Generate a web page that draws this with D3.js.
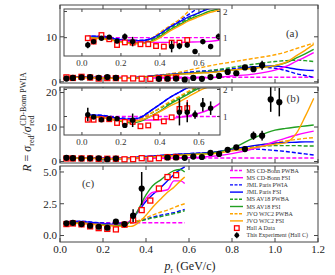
<!DOCTYPE html>
<html><head><meta charset="utf-8">
<script src="https://cdn.jsdelivr.net/npm/d3@7"></script>
<style>body{margin:0;background:#fff}svg{display:block}</style>
</head><body><svg id="c" width="335" height="275"></svg>
<script>
// ---------------- DATA ----------------
const seriesNames = ["MS CD-Bonn PWBA","MS CD-Bonn FSI","JML Paris PWIA","JML Paris FSI","MS AV18 PWBA","MS AV18 FSI","JVO WJC2 PWBA","JVO WJC2 FSI"];
const seriesColors = ["#ff00ff","#ff00ff","#0000ff","#0000ff","#22a022","#22a022","#ffa500","#ffa500"];
const seriesDashed = [true,false,true,false,true,false,true,false];

const pGridAB = [0.02,0.05,0.1,0.15,0.2,0.25,0.3,0.35,0.4,0.45,0.5,0.55,0.6,0.65,0.7,0.8,0.9,1.0,1.05,1.1,1.14,1.18];
const pGridC  = [0.02,0.05,0.1,0.15,0.2,0.25,0.3,0.33,0.36,0.4,0.43,0.47,0.5,0.53,0.56,0.58];

// panel (a)
const a_msCdbPwba = [1,1,1,1,1,1,1,1,1,1,1,1,1,1,1,1,1,1,1,1,1,1];
const a_msCdbFsi  = [1.0,1.0,0.97,0.93,0.88,0.85,0.83,0.82,0.82,0.82,0.82,0.83,0.84,0.86,0.9,1.3,1.7,2.6,3.4,4.6,5.5,6.5];
const a_jmlPwia   = [1.02,1.06,1.06,1.0,0.94,0.9,0.9,0.95,1.15,1.4,1.65,1.9,2.15,2.35,2.5,2.9,3.3,3.0,2.5,1.8,1.4,1.0];
const a_jmlFsi    = [1.02,1.06,1.05,0.98,0.92,0.88,0.88,0.95,1.15,1.4,1.6,1.8,1.95,2.1,2.2,2.6,3.3,3.5,3.2,2.8,2.6,2.5];
const a_av18Pwba  = [1.0,1.02,1.0,0.95,0.88,0.83,0.82,0.9,1.1,1.35,1.55,1.75,1.95,2.2,2.5,3.2,3.9,4.5,4.7,4.8,4.7,4.5];
const a_av18Fsi   = [1.0,1.0,0.97,0.92,0.85,0.8,0.79,0.85,1.05,1.3,1.5,1.7,1.85,2.0,2.1,2.6,3.1,3.6,4.2,5.3,6.2,7.2];
const a_wjc2Pwba  = [1.0,1.0,0.98,0.93,0.87,0.82,0.82,0.95,1.2,1.45,1.7,2.05,2.6,3.1,3.6,4.4,5.2,6.0,6.6,7.4,8.0,8.6];
const a_wjc2Fsi   = [1.0,0.99,0.96,0.9,0.83,0.78,0.77,0.82,1.0,1.25,1.45,1.65,1.8,1.95,2.05,2.6,3.0,3.6,4.3,5.8,7.0,8.3];

// panel (b)
const b_msCdbPwba = [1,1,1,1,1,1,1,1,1,1,1,1,1,1,1,1,1,1,1,1,1,1];
const b_msCdbFsi  = [1.0,1.0,0.95,0.91,0.88,0.86,0.86,0.87,0.88,0.92,0.97,1.03,1.12,1.25,1.45,2.3,3.7,5.8,6.8,7.7,8.3,8.8];
const b_jmlPwia   = [1.03,1.06,1.05,1.0,0.95,0.92,0.98,1.2,1.45,1.7,1.9,2.1,2.3,2.45,2.6,3.3,3.6,3.2,2.9,2.5,2.2,1.9];
const b_jmlFsi    = [1.03,1.06,1.04,0.98,0.92,0.9,0.96,1.2,1.45,1.7,1.9,2.1,2.25,2.4,2.6,3.6,4.6,5.3,5.5,5.6,5.7,5.7];
const b_av18Pwba  = [1.0,1.02,1.0,0.95,0.9,0.87,0.92,1.1,1.3,1.5,1.7,1.9,2.1,2.3,2.5,3.4,4.2,4.6,4.6,4.6,4.5,4.5];
const b_av18Fsi   = [1.0,1.0,0.96,0.9,0.82,0.76,0.82,1.0,1.2,1.45,1.65,1.85,2.05,2.2,2.4,3.8,6.8,9.1,9.6,10.0,10.3,10.6];
const b_wjc2Pwba  = [1.0,1.0,0.98,0.94,0.9,0.87,0.92,1.1,1.32,1.55,1.75,1.95,2.15,2.3,2.4,3.4,4.5,5.5,6.0,6.4,6.7,6.9];
const b_wjc2Fsi   = [1.0,0.99,0.96,0.9,0.85,0.82,0.86,1.0,1.18,1.38,1.55,1.75,1.95,2.1,2.2,3.1,4.0,5.0,5.5,8.2,13.0,18.3];

// panel (c)
const c_msCdbPwba = [1,1,1,1,1,1,1,1,1,1,1,1,1,1,1,1];
const c_msCdbFsi  = [1.0,1.0,0.97,0.93,0.88,0.85,0.9,1.2,1.9,2.9,3.4,3.5,3.6,4.3,4.3,4.1];
const c_jmlPwia   = [1.05,1.1,1.12,1.05,0.98,0.95,0.98,1.05,1.15,1.3,1.45,1.6,1.7,1.8,1.95,2.05];
const c_jmlFsi    = [1.05,1.1,1.1,1.03,0.95,0.88,0.9,1.2,1.8,2.7,3.2,3.8,4.3,4.8,5.2,5.4];
const c_av18Pwba  = [1.0,1.02,1.02,0.98,0.93,0.9,0.92,1.0,1.1,1.25,1.38,1.5,1.6,1.72,1.85,1.95];
const c_av18Fsi   = [1.0,1.0,0.98,0.92,0.85,0.8,0.85,1.15,1.9,3.2,3.9,4.4,4.8,5.1,5.2,5.0];
const c_wjc2Pwba  = [1.0,1.0,0.98,0.93,0.87,0.83,0.87,0.98,1.15,1.4,1.6,1.85,2.0,2.2,2.4,2.5];
const c_wjc2Fsi   = [1.0,0.98,0.95,0.88,0.8,0.75,0.72,0.72,0.95,1.6,2.2,2.9,3.4,3.8,4.3,4.6];

// Hall C data (this experiment)
const a_hallC_p   = [0.03,0.06,0.10,0.14,0.18,0.22,0.26,0.46,0.50,0.54,0.58,0.62,0.66,0.70,0.74,0.78,0.82,0.86,0.90,0.94];
const a_hallC_R   = [0.72,0.85,0.98,1.02,0.87,1.04,0.85,0.66,0.68,0.72,0.47,0.85,0.66,1.04,1.3,2.2,1.9,3.2,2.8,3.7];
const a_hallC_err = [0.12,0.05,0.04,0.04,0.06,0.12,0.18,0.22,0.12,0.1,0.06,0.1,0.1,0.12,0.2,0.3,0.3,0.4,0.5,1.0];
const b_hallC_p   = [0.03,0.06,0.10,0.14,0.18,0.22,0.26,0.50,0.54,0.58,0.62,0.66,0.70,0.74,0.78,0.82,0.86,0.90,0.94,0.98,1.02];
const b_hallC_R   = [1.07,0.98,0.88,0.92,0.92,0.67,0.86,1.16,1.16,1.07,1.44,1.31,2.5,2.2,3.4,4.1,3.6,7.5,7.5,18.0,17.2];
const b_hallC_err = [0.25,0.04,0.03,0.03,0.05,0.06,0.25,0.49,0.37,0.15,0.25,0.25,0.3,0.3,0.4,0.5,0.5,1.2,1.4,3.6,4.1];
const c_hallC_p   = [0.03,0.06,0.10,0.14,0.18,0.22,0.26,0.30,0.34,0.38];
const c_hallC_R   = [0.96,1.0,0.9,0.77,0.69,0.61,1.09,0.9,1.56,3.7];
const c_hallC_err = [0.1,0.05,0.05,0.05,0.05,0.05,0.1,0.15,0.5,1.3];

// Hall A data
const a_hallA_p   = [0.03,0.06,0.10,0.14,0.18,0.22,0.26,0.30,0.34,0.38,0.42,0.46,0.50,0.54];
const a_hallA_R   = [0.98,0.85,1.1,0.94,0.72,0.82,0.81,0.75,0.75,0.68,0.66,0.81,0.81,0.91];
const a_hallA_err = [0.03,0.03,0.03,0.03,0.03,0.03,0.03,0.04,0.04,0.04,0.05,0.08,0.08,0.1];
const b_hallA_p   = [0.03,0.06,0.10,0.14,0.18,0.22,0.26,0.30,0.34,0.38,0.42,0.46,0.50,0.54];
const b_hallA_R   = [0.88,0.88,0.9,0.9,0.76,0.8,0.8,0.64,0.67,0.97,0.82,0.97,1.28,1.31];
const b_hallA_err = [0.03,0.03,0.03,0.03,0.03,0.03,0.03,0.04,0.04,0.05,0.05,0.08,0.3,0.3];
const c_hallA_p   = [0.03,0.06,0.10,0.14,0.18,0.22,0.26,0.30,0.34,0.38,0.42,0.46,0.50,0.54];
const c_hallA_R   = [0.9,0.95,0.88,0.72,0.58,0.52,0.48,0.85,1.2,2.0,2.75,3.7,4.6,4.75];
const c_hallA_err = [0.03,0.03,0.03,0.03,0.03,0.03,0.03,0.05,0.08,0.1,0.12,0.15,0.2,0.25];

const xTicks = [0,0.2,0.4,0.6,0.8,1.0,1.2];
const insetXTicks = [0,0.2,0.4,0.6];
const insetYTicks = [1,2];
const aYTicks = [0,10], bYTicks = [0,10,20], cYTicks = [0,2.5,5.0];

// ---------------- DRAWING ----------------
const svg = d3.select("#c");
const SERIF = "'Liberation Serif','DejaVu Serif',serif";
const FRAME = "#444";
const X = d3.scaleLinear().domain([0,1.2]).range([60,318]);
const XI = d3.scaleLinear().domain([-0.092,0.708]).range([64,220]);

const panels = [
  {id:"a", grid:pGridAB, curves:[a_msCdbPwba,a_msCdbFsi,a_jmlPwia,a_jmlFsi,a_av18Pwba,a_av18Fsi,a_wjc2Pwba,a_wjc2Fsi],
   hc:[a_hallC_p,a_hallC_R,a_hallC_err], ha:[a_hallA_p,a_hallA_R,a_hallA_err],
   top:5, bottom:83, ydom:[-0.27,17.07], yticks:aYTicks, fmt:d3.format("d"), label:"(a)", lx:292, ly:37,
   inset:{top:9,bottom:56,ydom:[0.30,2.095]}},
  {id:"b", grid:pGridAB, curves:[b_msCdbPwba,b_msCdbFsi,b_jmlPwia,b_jmlFsi,b_av18Pwba,b_av18Fsi,b_wjc2Pwba,b_wjc2Fsi],
   hc:[b_hallC_p,b_hallC_R,b_hallC_err], ha:[b_hallA_p,b_hallA_R,b_hallA_err],
   top:87, bottom:163, ydom:[-0.43,21.6], yticks:bYTicks, fmt:d3.format("d"), label:"(b)", lx:293, ly:101.5,
   inset:{top:88,bottom:135,ydom:[0.315,2.056]}},
  {id:"c", grid:pGridC, curves:[c_msCdbPwba,c_msCdbFsi,c_jmlPwia,c_jmlFsi,c_av18Pwba,c_av18Fsi,c_wjc2Pwba,c_wjc2Fsi],
   hc:[c_hallC_p,c_hallC_R,c_hallC_err], ha:[c_hallA_p,c_hallA_R,c_hallA_err],
   top:166, bottom:242, ydom:[-0.51,5.47], yticks:cYTicks, fmt:d3.format(".1f"), label:"(c)", lx:88, ly:186.5,
   inset:null}
];

const defs = svg.append("defs");

function drawContent(g, xs, ys, P, clipId, big){
  const cg = g.append("g").attr("clip-path", `url(#${clipId})`);
  const order = [0,2,4,6,3,1,5,7];
  order.forEach(i=>{
    const data = P.grid.map((p,k)=>[p,P.curves[i][k]]);
    cg.append("path").datum(data)
      .attr("d", d3.line().x(d=>xs(d[0])).y(d=>ys(d[1])).curve(d3.curveMonotoneX))
      .attr("fill","none").attr("stroke",seriesColors[i]).attr("stroke-width",1.4)
      .attr("stroke-dasharray", seriesDashed[i] ? "4,2" : null);
  });
  // Hall A squares
  const [ap,aR,ae] = P.ha;
  const s = big ? 5 : 4.6;
  ap.forEach((p,k)=>{
    cg.append("line").attr("x1",xs(p)).attr("x2",xs(p)).attr("y1",ys(aR[k]-ae[k])).attr("y2",ys(aR[k]+ae[k]))
      .attr("stroke","#ff0000").attr("stroke-width",1.2);
    cg.append("rect").attr("x",xs(p)-s/2).attr("y",ys(aR[k])-s/2).attr("width",s).attr("height",s)
      .attr("fill","#fff").attr("stroke","#ff0000").attr("stroke-width",1.3);
  });
  // Hall C dots
  const [cp,cR,ce] = P.hc;
  cp.forEach((p,k)=>{
    cg.append("line").attr("x1",xs(p)).attr("x2",xs(p)).attr("y1",ys(cR[k]-ce[k])).attr("y2",ys(cR[k]+ce[k]))
      .attr("stroke","#000").attr("stroke-width",1.5);
    cg.append("circle").attr("cx",xs(p)).attr("cy",ys(cR[k])).attr("r", big ? 3.1 : 2.7).attr("fill","#000");
  });
}

panels.forEach(P=>{
  const Y = d3.scaleLinear().domain(P.ydom).range([P.bottom,P.top]);
  const g = svg.append("g");
  const clipId = "clip"+P.id;
  defs.append("clipPath").attr("id",clipId).append("rect")
    .attr("x",60).attr("y",P.top).attr("width",258).attr("height",P.bottom-P.top);
  drawContent(g, X, Y, P, clipId, true);
  // frame
  g.append("rect").attr("x",60).attr("y",P.top).attr("width",258).attr("height",P.bottom-P.top)
    .attr("fill","none").attr("stroke",FRAME).attr("stroke-width",1);
  // x ticks (inward, top & bottom)
  xTicks.forEach(t=>{
    g.append("line").attr("x1",X(t)).attr("x2",X(t)).attr("y1",P.bottom).attr("y2",P.bottom-4).attr("stroke",FRAME);
    g.append("line").attr("x1",X(t)).attr("x2",X(t)).attr("y1",P.top).attr("y2",P.top+4).attr("stroke",FRAME);
  });
  // y ticks
  P.yticks.forEach(t=>{
    g.append("line").attr("x1",60).attr("x2",64).attr("y1",Y(t)).attr("y2",Y(t)).attr("stroke",FRAME);
    g.append("line").attr("x1",318).attr("x2",314).attr("y1",Y(t)).attr("y2",Y(t)).attr("stroke",FRAME);
    g.append("text").attr("x",57).attr("y",Y(t)+3.8).attr("text-anchor","end")
      .attr("font-family",SERIF).attr("font-size",11).attr("fill","#222").text(P.fmt(t));
  });
  // panel label
  g.append("text").attr("x",P.lx).attr("y",P.ly).attr("text-anchor","middle")
    .attr("font-family",SERIF).attr("font-size",11).attr("fill","#333").text(P.label);

  if (P.inset){
    const I = P.inset;
    const YI = d3.scaleLinear().domain(I.ydom).range([I.bottom,I.top]);
    const ig = svg.append("g");
    ig.append("rect").attr("x",64).attr("y",I.top).attr("width",156).attr("height",I.bottom-I.top).attr("fill","#fff");
    const icl = "iclip"+P.id;
    defs.append("clipPath").attr("id",icl).append("rect")
      .attr("x",64).attr("y",I.top).attr("width",156).attr("height",I.bottom-I.top);
    drawContent(ig, XI, YI, P, icl, false);
    ig.append("rect").attr("x",64).attr("y",I.top).attr("width",156).attr("height",I.bottom-I.top)
      .attr("fill","none").attr("stroke",FRAME).attr("stroke-width",1);
    insetXTicks.forEach(t=>{
      ig.append("line").attr("x1",XI(t)).attr("x2",XI(t)).attr("y1",I.bottom).attr("y2",I.bottom-3).attr("stroke",FRAME);
      ig.append("line").attr("x1",XI(t)).attr("x2",XI(t)).attr("y1",I.top).attr("y2",I.top+3).attr("stroke",FRAME);
      ig.append("text").attr("x",XI(t)).attr("y",I.bottom+10).attr("text-anchor","middle")
        .attr("font-family",SERIF).attr("font-size",9).attr("fill","#333").text(d3.format(".1f")(t));
    });
    insetYTicks.forEach(t=>{
      ig.append("line").attr("x1",220).attr("x2",217).attr("y1",YI(t)).attr("y2",YI(t)).attr("stroke",FRAME);
      ig.append("line").attr("x1",64).attr("x2",67).attr("y1",YI(t)).attr("y2",YI(t)).attr("stroke",FRAME);
      ig.append("text").attr("x",223).attr("y",YI(t)+3.2).attr("text-anchor","start")
        .attr("font-family",SERIF).attr("font-size",9).attr("fill","#333").text(t);
    });
  }
});

// x tick labels (bottom)
xTicks.forEach(t=>{
  svg.append("text").attr("x",X(t)).attr("y",252.5).attr("text-anchor","middle")
    .attr("font-family",SERIF).attr("font-size",11).attr("fill","#222").text(d3.format(".1f")(t));
});
// x axis title
const xt = svg.append("text").attr("x",190).attr("y",270).attr("text-anchor","middle")
  .attr("font-family",SERIF).attr("font-size",12).attr("fill","#222");
xt.append("tspan").attr("font-style","italic").text("p");
xt.append("tspan").attr("font-size",8).attr("dy",2.5).text("r");
xt.append("tspan").attr("dy",-2.5).text(" (GeV/c)");

// y axis title (rotated)
const yg = svg.append("g").attr("transform","translate(31,122) rotate(-90)");
const yt = yg.append("text").attr("font-family",SERIF).attr("font-size",12).attr("fill","#222").attr("x",0).attr("y",0);
yt.append("tspan").attr("font-style","italic").text("R");
yt.append("tspan").text(" = ");
yt.append("tspan").attr("font-style","italic").text("σ");
yt.append("tspan").attr("font-size",8).attr("dy",2.5).text("red");
yt.append("tspan").attr("dy",-2.5).text("/");
yt.append("tspan").attr("font-style","italic").text("σ");
const baseLen = yt.node().getComputedTextLength();
const sub = yg.append("text").attr("font-family",SERIF).attr("font-size",8).attr("fill","#222")
  .attr("x",baseLen+0.5).attr("y",3).text("red");
const sup = yg.append("text").attr("font-family",SERIF).attr("font-size",8).attr("fill","#222")
  .attr("x",baseLen+0.5).attr("y",-5).text("CD-Bonn PWIA");
const supLen = sup.node().getComputedTextLength();
const totalLen = baseLen + 0.5 + supLen;
yg.attr("transform",`translate(31,${122+totalLen/2}) rotate(-90)`);

// legend
const lg = svg.append("g");
const legY0 = 170.5, legDy = 7.2;
seriesNames.forEach((n,i)=>{
  const y = legY0 + i*legDy;
  lg.append("line").attr("x1",230).attr("x2",243).attr("y1",y).attr("y2",y)
    .attr("stroke",seriesColors[i]).attr("stroke-width",1.4).attr("stroke-dasharray",seriesDashed[i]?"3,1.5":null);
  lg.append("text").attr("x",246.5).attr("y",y+2).attr("font-family",SERIF).attr("font-size",6).attr("fill","#333").text(n);
});
{
  const y = legY0 + 8*legDy;
  lg.append("rect").attr("x",234.5).attr("y",y-2.3).attr("width",4.6).attr("height",4.6)
    .attr("fill","#fff").attr("stroke","#ff0000").attr("stroke-width",1.3);
  lg.append("text").attr("x",246.5).attr("y",y+2).attr("font-family",SERIF).attr("font-size",6).attr("fill","#333").text("Hall A Data");
  const y2 = legY0 + 9*legDy;
  lg.append("line").attr("x1",236.8).attr("x2",236.8).attr("y1",y2-3).attr("y2",y2+3).attr("stroke","#000").attr("stroke-width",1.2);
  lg.append("circle").attr("cx",236.8).attr("cy",y2).attr("r",2.4).attr("fill","#000");
  lg.append("text").attr("x",246.5).attr("y",y2+2).attr("font-family",SERIF).attr("font-size",6).attr("fill","#333").text("This Experiment (Hall C)");
}
</script></body></html>
